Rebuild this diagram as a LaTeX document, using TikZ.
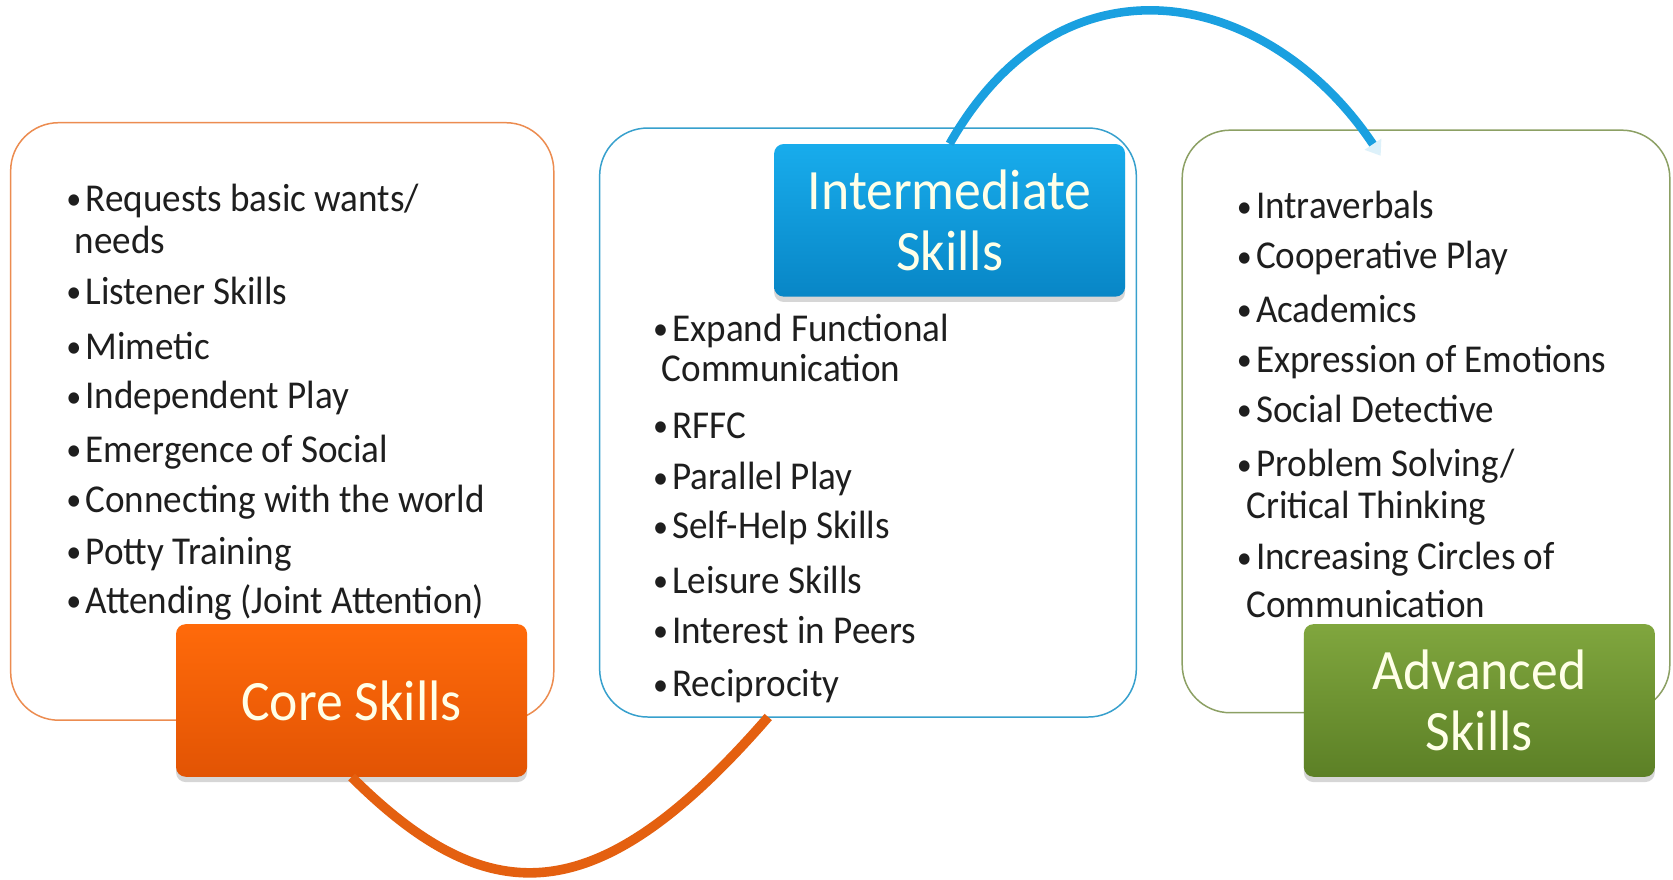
\documentclass[tikz,border=0pt]{standalone}
\usepackage{fontspec}
\setmainfont{Carlito}[FakeStretch=0.94]
\usepackage{tikz}
\usetikzlibrary{shadows,arrows.meta}
\definecolor{coreline}{RGB}{236,140,80}
\definecolor{midline}{RGB}{55,160,205}
\definecolor{advline}{RGB}{140,160,100}
\definecolor{coretop}{RGB}{255,106,10}
\definecolor{corebot}{RGB}{226,84,4}
\definecolor{midtop}{RGB}{24,172,236}
\definecolor{midbot}{RGB}{8,134,198}
\definecolor{advtop}{RGB}{128,166,62}
\definecolor{advbot}{RGB}{92,128,38}
\definecolor{arcorange}{RGB}{228,96,16}
\definecolor{arcblue}{RGB}{26,160,224}
\definecolor{titletext}{RGB}{255,255,232}
\definecolor{itemtext}{RGB}{30,30,30}
\newcommand\skillbullet{\llap{\raisebox{1.5pt}{\fontsize{30}{30}\selectfont\textbullet}\hspace{4pt}}}

\begin{document}
\begin{tikzpicture}[x=1pt,y=-1pt,
    skillbox/.style={draw, line width=1.4pt, fill=white, rounded corners=45pt},
    skilltitle/.style={rounded corners=9pt, minimum width=329pt, minimum height=143pt,
        text=titletext, align=center, font=\fontsize{53.5}{57}\selectfont,
        drop shadow={shadow xshift=0pt, shadow yshift=-5pt, fill=black, opacity=0.16}},
    skillitem/.style={anchor=base west, inner sep=0pt, text=itemtext, font=\fontsize{37}{40}\selectfont},
    skillarc/.style={line width=9pt}]
    \useasboundingbox (0,0) rectangle (1568,824);
    \fill[white] (0,0) rectangle (1568,824);

    % The three rounded boxes
    \node[skillbox, draw=coreline, minimum width=509pt, minimum height=560pt] (corebox) at (264.5,395) {};
    \node[skillbox, draw=midline, minimum width=503pt, minimum height=552pt] (midbox) at (813.5,396) {};
    \node[skillbox, draw=advline, minimum width=457pt, minimum height=546pt] (advbox) at (1336.5,395) {};

    % Titles
    \node[skilltitle, top color=coretop, bottom color=corebot] (coretitle) at (329.5,656.5) {Core Skills};
    \node[skilltitle, top color=midtop, bottom color=midbot] (midtitle) at (890,206.5) {Intermediate\\Skills};
    \node[skilltitle, top color=advtop, bottom color=advbot] (advtitle) at (1386.5,656.5) {Advanced\\Skills};

    % Arcs between the boxes
    \coordinate (midfoot) at (720,672);
    \coordinate (advhead) at (1294,146);
    \draw[skillarc, draw=arcorange] (coretitle.south) .. controls (459,857) and (561,855) .. (midfoot);
    \draw[skillarc, line width=8pt, draw=arcblue, -{Triangle[length=13pt,width=18pt,color=arcblue!15,fill=arcblue!15]}]
        (midtitle.north) .. controls (997,-53) and (1190,-10) .. (advhead);

    % Core skills list
    \foreach \n/\y/\txt in {1/198/{Requests basic wants/}, 2/285/Listener Skills, 3/337/Mimetic,
        4/383/Independent Play, 5/433/Emergence of Social, 6/480/Connecting with the world,
        7/529/Potty Training, 8/575/Attending (Joint Attention)}
        \node[skillitem] (core\n) at (80,\y) {\skillbullet\txt};
    \node[skillitem] (core1b) at (70,238) {needs};

    % Intermediate skills list
    \foreach \n/\y/\txt in {1/320/Expand Functional, 2/411/RFFC, 3/459/Parallel Play,
        4/505/Self-Help Skills, 5/556/Leisure Skills, 6/603/Interest in Peers, 7/653/Reciprocity}
        \node[skillitem] (mid\n) at (630,\y) {\skillbullet\txt};
    \node[skillitem] (mid1b) at (620,358) {Communication};

    % Advanced skills list
    \foreach \n/\y/\txt in {1/205/Intraverbals, 2/252/Cooperative Play, 3/302/Academics,
        4/349/Expression of Emotions, 5/396/Social Detective, 6/447/{Problem Solving/},
        7/534/Increasing Circles of}
        \node[skillitem] (adv\n) at (1177,\y) {\skillbullet\txt};
    \node[skillitem] (adv6b) at (1168,486) {Critical Thinking};
    \node[skillitem] (adv7b) at (1168,579) {Communication};
\end{tikzpicture}
\end{document}
